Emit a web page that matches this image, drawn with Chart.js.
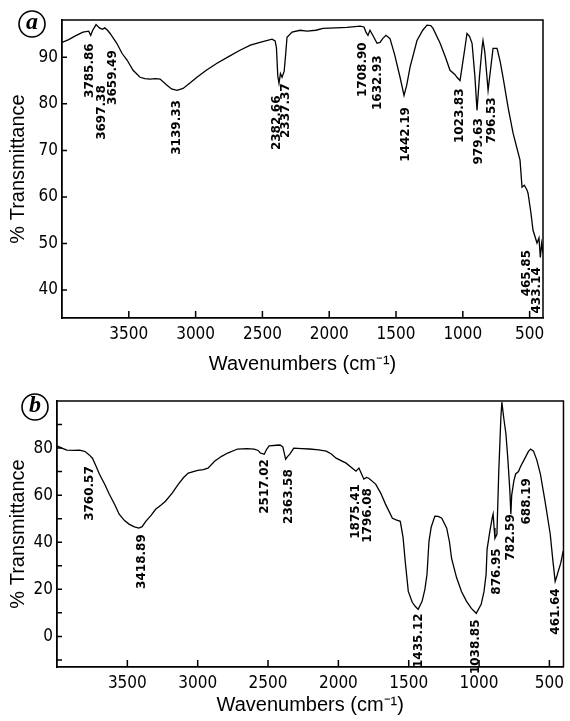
<!DOCTYPE html>
<html>
<head>
<meta charset="utf-8">
<script src="https://cdn.jsdelivr.net/npm/chart.js@4/dist/chart.umd.min.js"></script>
<style>
  html, body { margin: 0; padding: 0; background: #fff; }
  body { width: 570px; height: 721px; position: relative; overflow: hidden; }
  #chartA { position: absolute; left: 0; top: 0; }
  #chartB { position: absolute; left: 0; top: 380px; }
</style>
</head>
<body>
<canvas id="chartA" width="570" height="380"></canvas>
<canvas id="chartB" width="570" height="341"></canvas>
<script>
// Spectrum (a)
const waveA = [4000, 3950, 3900, 3843, 3800, 3785, 3770, 3745, 3720, 3697, 3680, 3659, 3640, 3590, 3550, 3513,
  3468, 3416, 3380, 3341, 3300, 3266, 3214, 3180, 3139, 3094, 3040, 2990, 2920, 2840, 2750, 2668, 2590, 2518,
  2428, 2405, 2395, 2385, 2376, 2365, 2353, 2337, 2325, 2316, 2278, 2218, 2166, 2100, 2046, 1950, 1867, 1769,
  1740, 1725, 1710, 1695, 1670, 1642, 1620, 1600, 1575, 1545, 1510, 1470, 1440, 1420, 1395, 1343, 1300, 1268,
  1240, 1223, 1170, 1130, 1096, 1060, 1044, 1021, 1000, 984, 969, 950, 931, 910, 894, 875, 856, 849, 835, 811,
  790, 774, 744, 720, 699, 660, 624, 572, 557, 540, 520, 512, 490, 475, 445, 430, 420, 410, 400];
const transA = [93.2, 93.8, 94.6, 95.4, 95.6, 94.7, 95.8, 97.0, 96.3, 96.0, 96.3, 95.8, 95.1, 93.0, 90.8, 89.4,
  87.2, 85.7, 85.4, 85.3, 85.4, 85.3, 84.0, 83.2, 82.9, 83.3, 84.5, 85.7, 87.2, 88.7, 90.2, 91.5, 92.6, 93.2,
  93.9, 93.5, 92.0, 86.0, 84.4, 86.5, 85.7, 87.0, 91.0, 94.3, 95.4, 95.8, 95.6, 95.8, 96.2, 96.3, 96.4, 96.7,
  96.5, 95.4, 94.7, 95.8, 94.5, 93.0, 93.2, 94.0, 94.7, 94.0, 90.5, 85.7, 81.8, 84.0, 87.9, 93.6, 95.8, 96.9,
  96.8, 96.2, 93.0, 90.0, 87.2, 86.3, 85.7, 85.0, 89.0, 92.1, 95.1, 94.5, 93.0, 86.0, 78.6, 86.0, 92.1, 93.6, 91.0, 82.9,
  88.0, 91.9, 91.9, 89.0, 85.7, 79.0, 73.7, 67.9, 62.1, 62.5, 61.5, 60.8, 56.5, 52.9, 50.1, 51.2, 47.0, 50.0, 48.0];
const peaksA = ['3785.86', '3697.38', '3659.49', '3139.33', '2382.66', '2337.37', '1708.90', '1632.93',
  '1442.19', '1023.83', '979.63', '796.53', '465.85', '433.14'];
const xTicksA = [3500, 3000, 2500, 2000, 1500, 1000, 500];
const yTicksA = [40, 50, 60, 70, 80, 90];

// Spectrum (b)
const waveB = [4000, 3965, 3930, 3880, 3839, 3800, 3769, 3748, 3720, 3698, 3660, 3628, 3590, 3558, 3520, 3488,
  3450, 3418, 3395, 3369, 3330, 3299, 3260, 3229, 3180, 3137, 3100, 3067, 3000, 2960, 2927, 2878, 2830, 2787,
  2717, 2650, 2598, 2570, 2555, 2527, 2510, 2492, 2440, 2415, 2395, 2385, 2375, 2360, 2345, 2317, 2260, 2205,
  2140, 2086, 2050, 2016, 1945, 1875, 1854, 1835, 1819, 1800, 1784, 1735, 1700, 1665, 1616, 1590, 1560, 1540,
  1525, 1503, 1475, 1454, 1433, 1405, 1385, 1370, 1356, 1340, 1314, 1290, 1265, 1230, 1210, 1195, 1160, 1125,
  1090, 1055, 1020, 985, 965, 950, 943, 925, 907, 900, 893, 887, 873, 860, 845, 838, 825, 809, 795, 781, 774,
  768, 753, 740, 720, 704, 680, 650, 634, 613, 590, 564, 530, 494, 475, 459, 445, 437, 420, 402];
const transB = [80.9, 80.0, 79.1, 79.0, 79.1, 78.5, 77.0, 75.7, 72.0, 68.9, 64.5, 60.4, 56.0, 51.9, 49.2, 47.7,
  46.5, 46.0, 46.6, 48.9, 51.5, 54.0, 55.8, 57.4, 61.0, 64.7, 67.5, 69.4, 70.5, 70.8, 71.5, 74.5, 76.5, 77.9,
  79.6, 79.8, 79.6, 79.0, 77.9, 77.4, 79.5, 80.9, 81.2, 81.3, 80.5, 78.0, 75.3, 76.5, 77.4, 80.0, 79.8, 79.6,
  79.2, 78.7, 77.5, 75.7, 73.6, 70.2, 71.5, 69.0, 66.8, 67.5, 67.2, 64.7, 61.0, 56.2, 50.2, 49.5, 48.9, 42.0,
  31.9, 19.1, 14.5, 12.8, 11.5, 14.9, 20.0, 26.4, 40.4, 46.5, 51.1, 51.0, 50.2, 46.0, 40.0, 33.0, 25.0, 19.1,
  15.0, 11.9, 9.8, 13.6, 19.0, 26.4, 37.0, 44.0, 50.2, 52.0, 46.0, 41.7, 43.4, 70.0, 93.0, 99.5, 93.0, 86.0, 75.0, 61.7, 51.9,
  60.0, 66.0, 69.0, 70.0, 72.3, 75.0, 78.5, 79.6, 78.7, 75.0, 68.9, 57.0, 43.4, 32.0, 23.4, 26.0, 27.7, 31.0, 36.2];
const peaksB = ['3760.57', '3418.89', '2517.02', '2363.58', '1875.41', '1796.08', '1435.12', '1038.85',
  '876.95', '782.59', '688.19', '461.64'];
const xTicksB = [3500, 3000, 2500, 2000, 1500, 1000, 500];
const yTicksB = [-10, 0, 10, 20, 30, 40, 50, 60, 70, 80, 90];

// where each rotated peak label ends (its top), in axis units
const labelSpotA = [[3790, 93], [3700, 84], [3618, 91.5], [3139, 80.8], [2391, 81.8], [2323, 84.4], [1747, 93.2],
  [1635, 90.4], [1425, 79.3], [1021, 83.3], [879, 76.9], [781, 81.4], [519, 48.6], [444, 44.9]];
const labelSpotB = [[3769, 72.3], [3397, 43.4], [2520, 75.3], [2352, 71], [1875, 64.7], [1791, 63], [1426, 9.8],
  [1020, 7.2], [872, 37.4], [774, 51.9], [662, 67.2], [452, 20.4]];

const tickFont = "'Liberation Sans Narrow', 'DejaVu Sans Condensed', 'Liberation Sans'";

function spectrumPlugin(peaks, spots, letter, letterPos) {
    return {
        id: 'spectrumDeco',
        afterDraw(chart) {
            const ctx = chart.ctx;
            const a = chart.chartArea;
            const xs = chart.scales.x, ys = chart.scales.y;
            ctx.save();
            ctx.strokeStyle = '#000';
            ctx.lineWidth = 1.5;
            // top and right edges of the frame
            ctx.beginPath();
            ctx.moveTo(a.left, a.top);
            ctx.lineTo(a.right, a.top);
            ctx.lineTo(a.right, a.bottom);
            ctx.stroke();
            // tick marks pointing into the plot
            ctx.beginPath();
            xs.ticks.forEach(t => {
                const px = xs.getPixelForValue(t.value);
                ctx.moveTo(px, a.bottom);
                ctx.lineTo(px, a.bottom - 7);
            });
            ys.ticks.forEach(t => {
                const py = ys.getPixelForValue(t.value);
                ctx.moveTo(a.left, py);
                ctx.lineTo(a.left + 5, py);
            });
            ctx.stroke();
            // peak labels, rotated
            ctx.fillStyle = '#000';
            ctx.font = "bold 12px 'DejaVu Sans'";
            ctx.textAlign = 'right';
            ctx.textBaseline = 'middle';
            peaks.forEach((txt, i) => {
                const px = xs.getPixelForValue(spots[i][0]);
                const py = ys.getPixelForValue(spots[i][1]);
                ctx.save();
                ctx.translate(px, py);
                ctx.rotate(-Math.PI / 2);
                ctx.fillText(txt, 0, 0);
                ctx.restore();
            });
            // circled panel letter
            ctx.lineWidth = 1.6;
            ctx.beginPath();
            ctx.arc(letterPos[0], letterPos[1], 13, 0, Math.PI * 2);
            ctx.stroke();
            ctx.font = "bold italic 24px 'Liberation Serif'";
            ctx.textAlign = 'center';
            ctx.textBaseline = 'middle';
            ctx.fillText(letter, letterPos[0], letterPos[1] - 1);
            ctx.restore();
        }
    };
}

function makeSpectrum(id, waves, trans, cfg) {
    const ctx = document.getElementById(id).getContext('2d');
    return new Chart(ctx, {
        type: 'line',
        data: {
            datasets: [{
                data: waves.map((w, i) => ({ x: w, y: trans[i] })),
                borderColor: '#000',
                borderWidth: 1.3,
                pointRadius: 0,
                tension: 0,
                fill: false
            }]
        },
        options: {
            responsive: false,
            animation: false,
            layout: { padding: cfg.padding },
            plugins: { legend: { display: false }, tooltip: { enabled: false } },
            scales: {
                x: {
                    type: 'linear',
                    reverse: true,
                    min: 400,
                    max: 4000,
                    afterBuildTicks: s => { s.ticks = cfg.xTicks.map(v => ({ value: v })); },
                    afterFit: s => { s.height = cfg.xHeight; },
                    grid: { display: false, drawTicks: false },
                    border: { display: true, color: '#000', width: 1.8 },
                    ticks: {
                        color: '#000', padding: 6, maxRotation: 0, autoSkip: false,
                        font: { family: tickFont, size: 17 },
                        callback: v => String(v)
                    },
                    title: {
                        display: true,
                        text: 'Wavenumbers (cm\u207B\u00B9)',
                        color: '#000',
                        font: { family: "'Liberation Sans'", size: 20 },
                        padding: { top: 0, bottom: 4 }
                    }
                },
                y: {
                    type: 'linear',
                    min: cfg.yMin,
                    max: cfg.yMax,
                    afterBuildTicks: s => { s.ticks = cfg.yTicks.map(v => ({ value: v })); },
                    afterFit: s => { s.width = cfg.yWidth; },
                    grid: { display: false, drawTicks: false },
                    border: { display: true, color: '#000', width: 1.8 },
                    ticks: {
                        color: '#000', padding: 4,
                        font: { family: tickFont, size: 17 },
                        callback: cfg.yLabel
                    },
                    title: {
                        display: true,
                        text: '% Transmittance',
                        color: '#000',
                        font: { family: "'Liberation Sans'", size: 20 },
                        padding: { top: 6, bottom: 0 }
                    }
                }
            }
        },
        plugins: [spectrumPlugin(cfg.peaks, cfg.spots, cfg.letter, cfg.letterPos)]
    });
}

makeSpectrum('chartA', waveA, transA, {
    padding: { left: 0, top: 20, right: 27, bottom: 0 },
    xTicks: xTicksA, yTicks: yTicksA, yMin: 34, yMax: 98,
    xHeight: 62, yWidth: 62,
    yLabel: v => String(v),
    peaks: peaksA, spots: labelSpotA,
    letter: 'a', letterPos: [32, 24]
});

makeSpectrum('chartB', waveB, transB, {
    padding: { left: 0, top: 21, right: 0, bottom: 0 },
    xTicks: xTicksB, yTicks: yTicksB, yMin: -13, yMax: 100,
    xHeight: 54, yWidth: 57,
    yLabel: v => (v % 20 === 0 ? String(v) : ''),
    peaks: peaksB, spots: labelSpotB,
    letter: 'b', letterPos: [35, 27]
});
</script>
</body>
</html>
